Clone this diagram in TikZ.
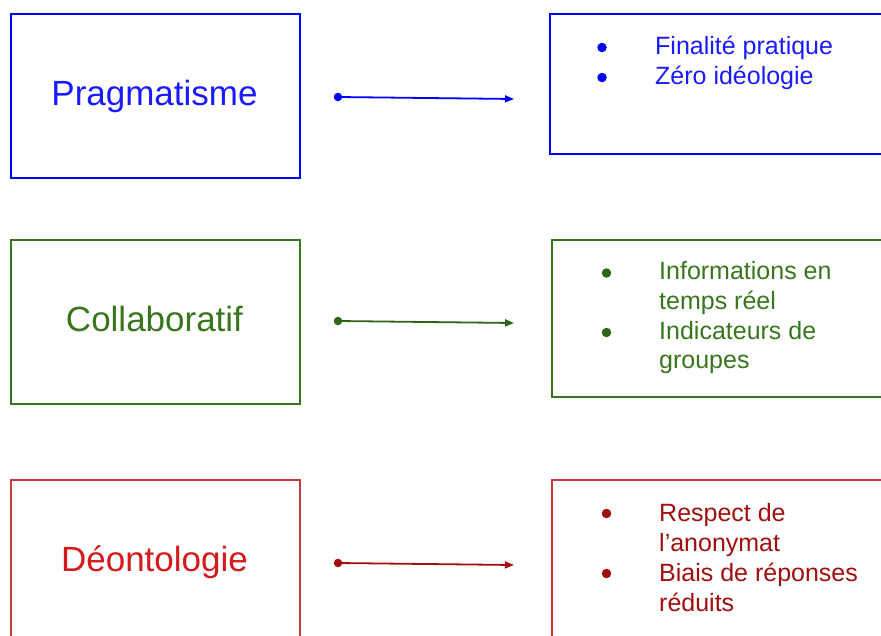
\documentclass[tikz,border=0pt]{standalone}
\usepackage{fontspec}
\setmainfont{Liberation Sans}
\usetikzlibrary{arrows.meta}
\definecolor{cblue}{HTML}{0000FF}
\definecolor{ctblue}{HTML}{1A1AFF}
\definecolor{cgreen}{HTML}{38761D}
\definecolor{cdgreen}{HTML}{2E6418}
\definecolor{credbox}{HTML}{C33D3D}
\definecolor{cred}{HTML}{D41A1A}
\definecolor{cdred}{HTML}{A00E0E}
\tikzset{
  box/.style={draw, line width=2pt, inner sep=0pt, anchor=north west},
  ltext/.style={inner sep=0pt, anchor=base, font=\fontsize{35}{42}\selectfont},
  rtext/.style={inner sep=0pt, anchor=base west, font=\fontsize{25}{30}\selectfont},
  bul/.style={circle, inner sep=0pt, minimum size=9.5pt},
  conn/.style={line width=1.8pt, -{Triangle[length=9pt,width=7pt]}},
  dot/.style={circle, inner sep=0pt, minimum size=8.5pt},
}
\begin{document}
\begin{tikzpicture}[x=1pt,y=1pt]
\useasboundingbox (0,0) rectangle (881,-635);
\clip (0,0) rectangle (881,-635);
% left boxes
\node[box, draw=cblue, minimum width=289pt, minimum height=164pt] (L1) at (10,-13) {};
\node[box, draw=cgreen, minimum width=289pt, minimum height=164pt] (L2) at (10,-239) {};
\node[box, draw=credbox, minimum width=289pt, minimum height=164pt] (L3) at (10,-479) {};
\node[ltext, text=ctblue] (T1) at (154.5,-105) {Pragmatisme};
\node[ltext, text=cgreen] (T2) at (154.5,-331) {Collaboratif};
\node[ltext, text=cred] (T3) at (154.5,-571) {Déontologie};
% right boxes
\node[box, draw=cblue, minimum width=360pt, minimum height=140pt] (R1) at (549,-13) {};
\node[box, draw=cgreen, minimum width=360pt, minimum height=157pt] (R2) at (551,-239) {};
\node[box, draw=credbox, minimum width=360pt, minimum height=164pt] (R3) at (551,-479) {};
% blue items
\node[bul, fill=cblue] (B11) at (602,-47.5) {};
\node[bul, fill=cblue] (B12) at (602,-77.5) {};
\node[rtext, text=ctblue] (I11) at (655,-54.5) {Finalité pratique};
\node[rtext, text=ctblue] (I12) at (655,-84.5) {Zéro idéologie};
% green items
\node[bul, fill=cdgreen] (B21) at (606.5,-273) {};
\node[bul, fill=cdgreen] (B22) at (606.5,-332.5) {};
\node[rtext, text=cgreen] (I21) at (659,-279.5) {Informations en};
\node[rtext, text=cgreen] (I22) at (659,-309.3) {temps réel};
\node[rtext, text=cgreen] (I23) at (659,-339) {Indicateurs de};
\node[rtext, text=cgreen] (I24) at (659,-368.8) {groupes};
% red items
\node[bul, fill=cdred] (B31) at (606.5,-513.5) {};
\node[bul, fill=cdred] (B32) at (606.5,-573.5) {};
\node[rtext, text=cdred] (I31) at (659,-521) {Respect de};
\node[rtext, text=cdred] (I32) at (659,-551) {l’anonymat};
\node[rtext, text=cdred] (I33) at (659,-581) {Biais de réponses};
\node[rtext, text=cdred] (I34) at (659,-611) {réduits};
% connectors
\coordinate (A1s) at (338,-97);  \coordinate (A1e) at (514,-99);
\coordinate (A2s) at (338,-321); \coordinate (A2e) at (514,-323);
\coordinate (A3s) at (338,-563); \coordinate (A3e) at (514,-565);
\node[dot, fill=cblue] (D1) at (A1s) {};
\node[dot, fill=cdgreen] (D2) at (A2s) {};
\node[dot, fill=cdred] (D3) at (A3s) {};
\draw[conn, draw=cblue, fill=cblue] (A1s) -- (A1e);
\draw[conn, draw=cdgreen, fill=cdgreen] (A2s) -- (A2e);
\draw[conn, draw=cdred, fill=cdred] (A3s) -- (A3e);
\end{tikzpicture}
\end{document}
